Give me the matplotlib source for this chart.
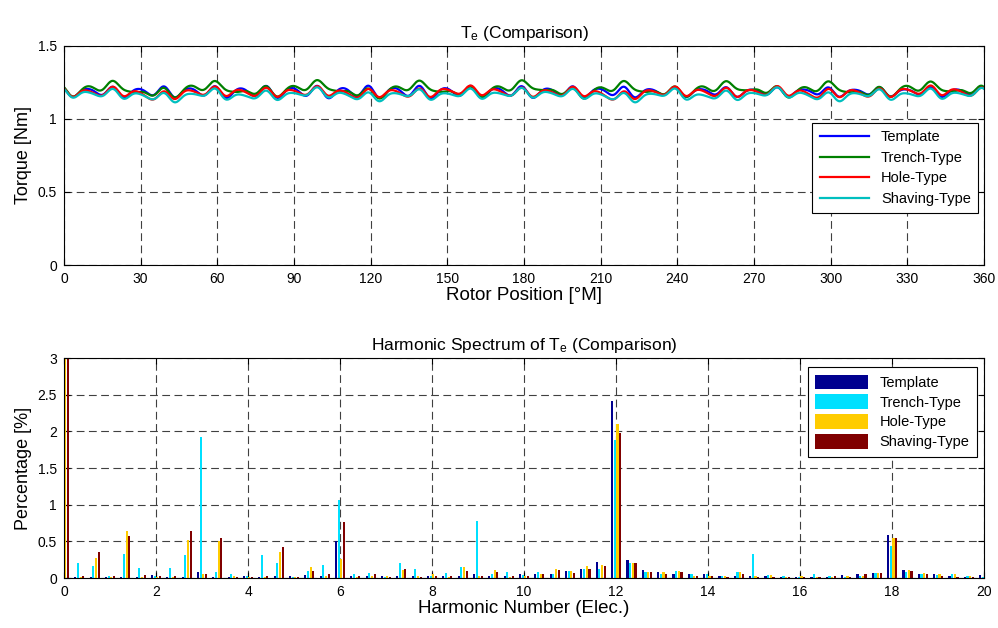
import numpy as np
import matplotlib
matplotlib.use('Agg')
import matplotlib.pyplot as plt

plt.rcParams['font.family'] = ['Liberation Sans', 'DejaVu Sans']
plt.rcParams['mathtext.fontset'] = 'custom'
plt.rcParams['mathtext.rm'] = 'Liberation Sans'
plt.rcParams['mathtext.it'] = 'Liberation Sans'

names = ['Template', 'Trench-Type', 'Hole-Type', 'Shaving-Type']

# harmonic spectrum, % of mean torque, at harmonic orders 0, 1/3, 2/3, ... 20 (elec.)
template = [100, 0.02, 0.02, 0.02, 0.02, 0.02, 0.04, 0.02, 0.02, 0.08, 0.02, 0.02, 0.03,
            0.02, 0.03, 0.03, 0.04, 0.03, 0.51, 0.03, 0.03, 0.03, 0.03, 0.03, 0.03, 0.03,
            0.03, 0.06, 0.03, 0.03, 0.05, 0.05, 0.06, 0.09, 0.12, 0.22, 2.42, 0.25, 0.11,
            0.08, 0.05, 0.05, 0.05, 0.03, 0.03, 0.03, 0.03, 0.02, 0.02, 0.02, 0.02, 0.04,
            0.05, 0.07, 0.59, 0.11, 0.05, 0.05, 0.03, 0.02, 0.04]
trench = [100, 0.20, 0.16, 0.03, 0.33, 0.13, 0.03, 0.13, 0.31, 1.93, 0.08, 0.05, 0.03,
          0.31, 0.20, 0.02, 0.09, 0.18, 1.07, 0.05, 0.07, 0.02, 0.20, 0.12, 0.03, 0.07,
          0.15, 0.78, 0.05, 0.08, 0.04, 0.08, 0.05, 0.09, 0.12, 0.12, 1.88, 0.21, 0.08,
          0.06, 0.10, 0.06, 0.05, 0.03, 0.08, 0.33, 0.04, 0.03, 0.01, 0.05, 0.03, 0.02,
          0.03, 0.07, 0.44, 0.08, 0.05, 0.04, 0.05, 0.03, 0.02]
hole = [100, 0.02, 0.27, 0.01, 0.64, 0.01, 0.02, 0.02, 0.52, 0.05, 0.50, 0.03, 0.02,
        0.02, 0.35, 0.02, 0.15, 0.03, 0.26, 0.02, 0.03, 0.03, 0.11, 0.03, 0.05, 0.02,
        0.15, 0.03, 0.11, 0.02, 0.03, 0.05, 0.12, 0.09, 0.16, 0.18, 2.10, 0.21, 0.08,
        0.08, 0.10, 0.03, 0.03, 0.03, 0.08, 0.03, 0.04, 0.02, 0.03, 0.02, 0.02, 0.03,
        0.03, 0.07, 0.55, 0.11, 0.07, 0.05, 0.05, 0.03, 0.03]
shaving = [100, 0.03, 0.35, 0.03, 0.58, 0.04, 0.03, 0.03, 0.64, 0.05, 0.54, 0.01, 0.02,
           0.03, 0.43, 0.01, 0.10, 0.05, 0.77, 0.03, 0.05, 0.02, 0.12, 0.01, 0.03, 0.03,
           0.10, 0.03, 0.08, 0.03, 0.03, 0.05, 0.11, 0.07, 0.12, 0.16, 1.98, 0.20, 0.08,
           0.06, 0.08, 0.03, 0.03, 0.02, 0.05, 0.02, 0.02, 0.02, 0.02, 0.02, 0.03, 0.02,
           0.05, 0.07, 0.54, 0.10, 0.05, 0.03, 0.02, 0.02, 0.02]
spectra = [template, trench, hole, shaving]

# mean torque [Nm]
mean_torque = [1.185, 1.20, 1.18, 1.165]
# estimated phases [deg] of the main harmonics (index into spectrum), per series
phases = [
    {36: 36, 18: 100, 54: 40, 9: -60, 35: 150, 37: -90},
    {36: 30, 9: -162, 18: 40, 27: 120, 54: 60, 4: 30, 8: -40, 13: 70, 45: 0},
    {36: 40, 4: 50, 8: -120, 10: 160, 14: 20, 2: 80, 18: 0, 54: 30},
    {36: 40, 4: 10, 8: -80, 10: 120, 14: -30, 2: 40, 18: 60, 54: 30},
]

line_colors = ['#0000FF', '#008000', '#FF0000', '#00BFBF']
bar_colors = ['#00008F', '#00E0FF', '#FFCC00', '#800000']

pole_pairs = 3
theta = np.linspace(0, 360, 1441)
orders = np.arange(len(template)) / 3.0

fig = plt.figure(figsize=(9.98, 6.28), dpi=100)
ax1 = fig.add_axes([0.0641, 0.578, 0.922, 0.349])
ax2 = fig.add_axes([0.0641, 0.0796, 0.922, 0.350])

grid_kw = dict(color='0.25', linestyle=(0, (7, 4)), linewidth=0.8)

# torque waveforms rebuilt from the spectra
for name, spec, t0, ph, c in zip(names, spectra, mean_torque, phases, line_colors):
    t = np.full_like(theta, t0)
    for k, p in ph.items():
        mech_order = orders[k] * pole_pairs
        t += t0 * spec[k] / 100 * np.cos(np.radians(mech_order * theta + p))
    ax1.plot(theta, t, color=c, linewidth=1.6, label=name)

ax1.set_xlim(0, 360)
ax1.set_ylim(0, 1.5)
ax1.set_xticks(np.arange(0, 361, 30))
ax1.set_yticks([0, 0.5, 1, 1.5])
ax1.set_yticklabels(['0', '0.5', '1', '1.5'])
ax1.grid(True, **grid_kw)
ax1.set_title('$\\mathregular{T_e}$ (Comparison)', fontsize=12.5, pad=6)
ax1.set_xlabel('Rotor Position [°M]', fontsize=13.5, labelpad=1)
ax1.set_ylabel('Torque [Nm]', fontsize=13, labelpad=4)
leg1 = ax1.legend(loc='upper right', bbox_to_anchor=(0.9935, 0.648), borderaxespad=0,
                  fontsize=10.5, handlelength=3.4, fancybox=False, edgecolor='black',
                  framealpha=1, borderpad=0.5, labelspacing=0.45)
leg1.get_frame().set_linewidth(0.8)

# grouped harmonic bars
step = 0.058
width = 0.048
offsets = (np.arange(4) - 1.5) * step
for name, spec, off, c in zip(names, spectra, offsets, bar_colors):
    ax2.bar(orders + off, spec, width=width, color=c, label=name, linewidth=0)

ax2.set_xlim(0, 20)
ax2.set_ylim(0, 3)
ax2.set_xticks(np.arange(0, 21, 2))
ax2.set_yticks(np.arange(0, 3.01, 0.5))
ax2.set_yticklabels(['0', '0.5', '1', '1.5', '2', '2.5', '3'])
ax2.grid(True, **grid_kw)
ax2.set_axisbelow(True)
ax2.set_title('Harmonic Spectrum of $\\mathregular{T_e}$ (Comparison)', fontsize=12.5, pad=6)
ax2.set_xlabel('Harmonic Number (Elec.)', fontsize=13.5, labelpad=1)
ax2.set_ylabel('Percentage [%]', fontsize=13, labelpad=4)
leg2 = ax2.legend(loc='upper right', bbox_to_anchor=(0.992, 0.959), borderaxespad=0,
                  fontsize=10.5, handlelength=3.6, handleheight=1.2, fancybox=False,
                  edgecolor='black', framealpha=1, borderpad=0.5, labelspacing=0.3)
leg2.get_frame().set_linewidth(0.8)

for ax in (ax1, ax2):
    ax.tick_params(direction='in', top=True, right=True, labelsize=10, length=4, pad=5)
    for s in ax.spines.values():
        s.set_linewidth(0.8)

fig.savefig('out.png', dpi=100)
